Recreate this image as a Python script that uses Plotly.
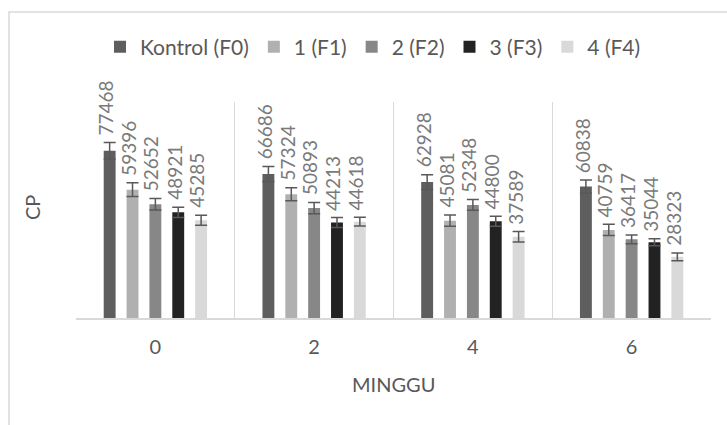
import plotly.graph_objects as go

categories = ["0", "2", "4", "6"]
series_names = ["Kontrol (F0)", "1 (F1)", "2 (F2)", "3 (F3)", "4 (F4)"]
values = {
    "Kontrol (F0)": [77468, 66686, 62928, 60838],
    "1 (F1)": [59396, 57324, 45081, 40759],
    "2 (F2)": [52652, 50893, 52348, 36417],
    "3 (F3)": [48921, 44213, 44800, 35044],
    "4 (F4)": [45285, 44618, 37589, 28323],
}
errors = {
    "Kontrol (F0)": [3800, 3500, 3400, 3100],
    "1 (F1)": [3200, 3000, 2600, 2600],
    "2 (F2)": [2700, 2600, 2500, 2000],
    "3 (F3)": [2400, 2300, 2300, 1600],
    "4 (F4)": [2300, 2000, 2400, 1800],
}
colors = ["#5e5e5e", "#b0b0b0", "#878787", "#222222", "#d9d9d9"]

W, H = 727, 425
L, R, T, B = 76, 16, 102, 107
pw = W - L - R
ph = H - T - B
FONT = "Lato, 'Open Sans', sans-serif"
LABEL_SIZE = 19

fig = go.Figure()
for name, c in zip(series_names, colors):
    fig.add_trace(go.Bar(
        x=categories, y=values[name], name=name,
        marker=dict(color=c, line=dict(width=0)),
        error_y=dict(type="data", array=errors[name], color="#595959",
                     thickness=1.5, width=6),
    ))

slot = pw / len(categories) * (1 - 0.28) / len(series_names)
annotations = []
for i, name in enumerate(series_names):
    off = (i - 2) * slot
    for ci, (v, e) in enumerate(zip(values[name], errors[name])):
        half_len = len(str(v)) * 0.58 * LABEL_SIZE / 2
        annotations.append(dict(
            x=ci, y=v + e, xref="x", yref="y", text=str(v), showarrow=False,
            textangle=-90, yanchor="middle", xanchor="center",
            xshift=off - 4, yshift=half_len + 7,
            font=dict(family=FONT, size=LABEL_SIZE, color="#7a7a7a"),
        ))

annotations.append(dict(
    x=(32 - L) / pw, y=(H - B - 208) / ph, xref="paper", yref="paper",
    text="CP", showarrow=False, textangle=-90, xanchor="center", yanchor="middle",
    font=dict(family=FONT, size=20, color="#595959"),
))
annotations.append(dict(
    x=0.5, y=(H - B - 384) / ph, xref="paper", yref="paper",
    text="MINGGU", showarrow=False, xanchor="center", yanchor="middle",
    font=dict(family=FONT, size=20, color="#595959"),
))

fig.update_layout(
    width=W, height=H,
    margin=dict(l=L, r=R, t=T, b=B, autoexpand=False),
    paper_bgcolor="white", plot_bgcolor="white",
    barmode="group", bargap=0.28, bargroupgap=0.48,
    font=dict(family=FONT, color="#595959", size=20),
    showlegend=True,
    legend=dict(orientation="h", x=(373 - L) / pw, xanchor="center",
                y=(H - B - 47) / ph, yanchor="middle",
                font=dict(family=FONT, size=21, color="#595959"), itemwidth=30,
                traceorder="normal"),
    annotations=annotations,
    shapes=[dict(type="rect", xref="paper", yref="paper",
                 x0=(9 - L) / pw, x1=(760 - L) / pw,
                 y0=(H - B - 460) / ph, y1=(H - B - 12) / ph,
                 line=dict(color="#d9d9d9", width=1.5), fillcolor="rgba(0,0,0,0)",
                 layer="below")],
    xaxis=dict(type="category", range=[-0.5, 3.5], autorange=False,
               showgrid=True, tickson="boundaries",
               gridcolor="#d9d9d9", gridwidth=1, showline=True,
               linecolor="#d9d9d9", linewidth=1.5, ticks="",
               ticklabelstandoff=10,
               tickfont=dict(family=FONT, size=20, color="#595959")),
    yaxis=dict(range=[0, 100000], autorange=False, showgrid=False,
               showticklabels=False, zeroline=False, showline=False, ticks=""),
)

fig.write_html("out.html", config={"displayModeBar": False},
               post_script="document.body.style.margin='0';")
